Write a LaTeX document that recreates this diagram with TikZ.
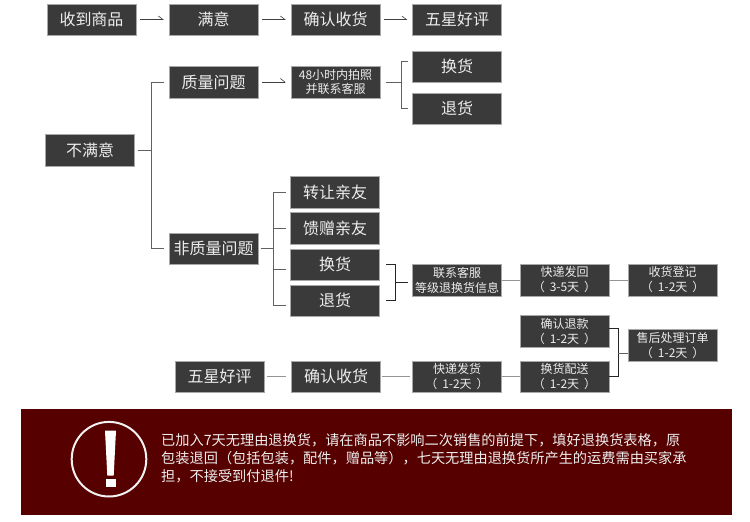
\documentclass[tikz,border=0pt]{standalone}
\usepackage{fontspec}
\setmainfont{Noto Sans CJK SC}
\usetikzlibrary{arrows.meta}
\definecolor{boxfill}{HTML}{3A3A3A}
\definecolor{boxedge}{HTML}{A8A8A8}
\definecolor{boxtext}{HTML}{EDEDED}
\definecolor{banner}{HTML}{560000}
\newcommand{\pgap}{\hspace{5pt}}
\tikzset{
  flowbox/.style={rectangle,fill=boxfill,draw=boxedge,line width=0.5pt,text=boxtext,
    minimum width=89pt,minimum height=31.5pt,inner sep=0pt,align=center,
    font=\fontsize{16}{19}\selectfont},
  smallbox/.style={flowbox,font=\fontsize{12}{15}\selectfont},
  harrow/.style={draw=black!75,line width=0.6pt,-{Straight Barb[left,length=4.5pt,width=7pt]},shorten <=3.5pt,shorten >=5pt},
  branch/.style={draw=black!62,line width=0.9pt},
  dbranch/.style={draw=black!85,line width=0.9pt},
  plain/.style={draw=black!42,line width=1pt},
}
\begin{document}
\begin{tikzpicture}[x=1pt,y=-1pt]
\useasboundingbox (0,0) rectangle (750,522);
% first row
\node[flowbox] (a1) at (91.5,19.5) {收到商品};
\node[flowbox] (a2) at (213.5,19.5) {满意};
\node[flowbox] (a3) at (335.5,19.5) {确认收货};
\node[flowbox] (a4) at (457,19.5) {五星好评};
\draw[harrow] (a1.east) -- (a2.west);
\draw[harrow] (a2.east) -- (a3.west);
\draw[harrow] (a3.east) -- (a4.west);
% dissatisfied
\node[flowbox] (b0) at (90,150) {不满意};
\node[flowbox] (q1) at (213.5,82) {质量问题};
\node[flowbox] (q2) at (213.5,248.7) {非质量问题};
\coordinate (t0) at (151.7,150);
\coordinate (t0a) at (151.7,82);
\coordinate (t0b) at (151.7,248.7);
\coordinate (t0c) at (163.5,82);
\coordinate (t0d) at (163.5,248.7);
\coordinate (s0) at (137.5,150);
\draw[branch] (s0) -- (t0);
\draw[branch] (t0c) -- (t0a) -- (t0b) -- (t0d);
% quality
\node[smallbox,font=\fontsize{12}{14}\selectfont] (c1) at (335.5,82) {48小时内拍照\\并联系客服};
\node[flowbox] (c2) at (457,66.5) {换货};
\node[flowbox] (c3) at (457,108.5) {退货};
\draw[harrow] (q1.east) -- (c1.west);
\coordinate (t1s) at (386,82);
\coordinate (t1) at (401,82);
\coordinate (t1a) at (401,61);
\coordinate (t1b) at (401,108);
\coordinate (t1c) at (408,61);
\coordinate (t1d) at (408,108);
\draw[branch] (t1s) -- (t1);
\draw[branch] (t1c) -- (t1a) -- (t1b) -- (t1d);
% non-quality
\node[flowbox] (d1) at (335.2,192.3) {转让亲友};
\node[flowbox] (d2) at (335.2,228.3) {馈赠亲友};
\node[flowbox] (d3) at (335.2,264.5) {换货};
\node[flowbox] (d4) at (335.2,300.5) {退货};
\coordinate (t2s) at (260.7,248.7);
\coordinate (t2m) at (273.7,248.7);
\coordinate (t2a) at (273.7,192);
\coordinate (t2b) at (273.7,305);
\coordinate (t2c) at (286.3,192);
\coordinate (t2d) at (286.3,305);
\coordinate (t2e) at (273.7,228);
\coordinate (t2f) at (286.3,228);
\coordinate (t2g) at (273.7,269);
\coordinate (t2h) at (286.3,269);
\draw[branch] (t2s) -- (t2m);
\draw[branch] (t2c) -- (t2a) -- (t2b) -- (t2d);
\draw[branch] (t2e) -- (t2f);
\draw[branch] (t2g) -- (t2h);
% return path
\node[smallbox] (e1) at (457,280) {联系客服\\等级退换货信息};
\node[smallbox] (e2) at (564.5,280) {快递发回\\（\pgap 3-5天\pgap ）};
\node[smallbox] (e3) at (672.7,280) {收货登记\\（\pgap 1-2天\pgap ）};
\coordinate (u1) at (386.3,264.3);
\coordinate (u2) at (395.7,264.3);
\coordinate (u3) at (395.7,300.3);
\coordinate (u4) at (386.3,300.3);
\coordinate (u5) at (395.7,282.3);
\coordinate (u6) at (407.7,282.3);
\draw[dbranch] (u1) -- (u2) -- (u3) -- (u4);
\draw[dbranch] (u5) -- (u6);
\draw[plain] (e1.east) -- (e2.west);
\draw[plain] (e2.east) -- (e3.west);
% bottom row
\node[flowbox] (f1) at (219.5,376.7) {五星好评};
\node[flowbox] (f2) at (336,376.7) {确认收货};
\node[smallbox] (f3) at (457,376.7) {快递发货\\（\pgap 1-2天\pgap ）};
\node[smallbox] (f4) at (564.5,376.7) {换货配送\\（\pgap 1-2天\pgap ）};
\node[smallbox] (g1) at (564.5,331.3) {确认退款\\（\pgap 1-2天\pgap ）};
\node[smallbox] (g2) at (672.7,345.3) {售后处理订单\\（\pgap 1-2天\pgap ）};
\draw[plain,shorten <=3pt,shorten >=5.5pt] (f1.east) -- (f2.west);
\draw[plain,shorten <=1.5pt,shorten >=2.5pt] (f2.east) -- (f3.west);
\draw[plain] (f3.east) -- (f4.west);
\coordinate (v1) at (618.3,328.7);
\coordinate (v2) at (618.3,376.7);
\coordinate (v3) at (618.3,353);
\coordinate (v4) at (g2.west |- v3);
\coordinate (v5) at (g1.east |- v1);
\draw[dbranch] (v5) -- (v1) -- (v2) -- (f4.east);
\draw[branch] (v3) -- (v4);
% banner
\fill[banner] (21,408.5) rectangle (731.7,515.3);
\draw[white!95!black,line width=2pt] (109,459.2) circle (37.3);
\fill[white] (105,430.7) -- (116,430.7) -- (113.7,475.5) -- (107.3,475.5) -- cycle;
\fill[white] (105.5,478.5) rectangle (115.5,487);
\node[anchor=north west,inner sep=0pt,text=boxtext,align=left,font=\fontsize{14.2}{17.8}\selectfont] (msg) at (161,433.7)
 {已加入7天无理由退换货，请在商品不影响二次销售的前提下，填好退换货表格，原\\
  包装退回（包括包装，配件，赠品等），七天无理由退换货所产生的运费需由买家承\\
  担，不接受到付退件!};
\end{tikzpicture}
\end{document}
